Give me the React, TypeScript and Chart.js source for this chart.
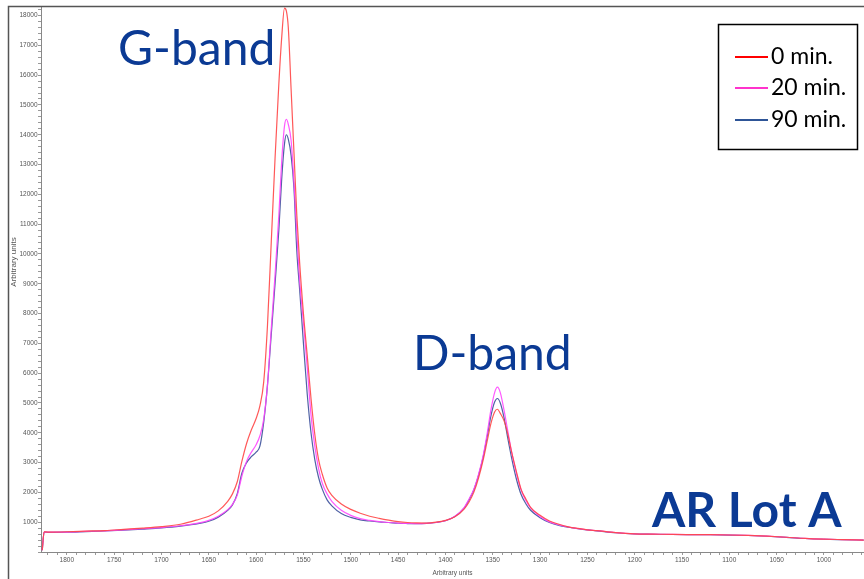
import React, { useEffect, useRef } from 'react';
import { Chart, registerables } from 'chart.js';

Chart.register(...registerables);

// Raman shift (cm-1)
const wavenumbers = [
  1826, 1824, 1820, 1800, 1780, 1760, 1740, 1720, 1700, 1680,
  1660, 1650, 1640, 1630, 1625, 1620, 1615, 1610, 1605, 1600,
  1596, 1592, 1588, 1584, 1580, 1576, 1573, 1570, 1568, 1566,
  1563, 1560, 1557, 1554, 1550, 1546, 1542, 1538, 1534, 1530,
  1525, 1520, 1510, 1500, 1490, 1480, 1470, 1460, 1450, 1440,
  1430, 1420, 1410, 1400, 1390, 1380, 1375, 1370, 1365, 1360,
  1356, 1352, 1348, 1345, 1342, 1338, 1334, 1330, 1325, 1320,
  1315, 1310, 1300, 1290, 1280, 1270, 1260, 1250, 1240, 1220,
  1200, 1180, 1160, 1140, 1120, 1100, 1080, 1060, 1040, 1020,
  1000, 980, 958,
];

const min0 = [
  60, 680, 670, 680, 700, 720, 760, 800, 850, 930,
  1100, 1200, 1380, 1700, 1950, 2350, 3050, 3650, 4100, 4480,
  4900, 5700, 7600, 10400, 13200, 15700, 17250, 18250, 18150, 17600,
  15500, 13400, 11300, 9700, 8000, 6600, 5150, 3950, 3100, 2600,
  2150, 1900, 1610, 1430, 1300, 1200, 1130, 1070, 1020, 990,
  975, 970, 1000, 1060, 1180, 1450, 1680, 2000, 2480, 3100,
  3700, 4300, 4700, 4790, 4650, 4400, 3950, 3350, 2700, 2100,
  1780, 1500, 1230, 1040, 930, 845, 790, 745, 715, 650,
  610, 600, 590, 585, 580, 570, 555, 530, 495, 455,
  430, 415, 400,
];

const min20 = [
  60, 670, 665, 670, 690, 710, 740, 780, 820, 880,
  980, 1060, 1200, 1420, 1600, 1900, 2550, 3050, 3350, 3600,
  3900, 4450, 5600, 7500, 9300, 11300, 13100, 14300, 14520, 14350,
  13800, 12400, 10700, 9100, 7700, 6200, 4600, 3550, 2800, 2300,
  1950, 1700, 1400, 1230, 1120, 1060, 1020, 990, 970, 960,
  950, 960, 990, 1050, 1200, 1500, 1780, 2100, 2600, 3250,
  3950, 4750, 5350, 5530, 5350, 4750, 4050, 3350, 2650, 2080,
  1730, 1480, 1190, 1010, 910, 840, 785, 745, 715, 650,
  610, 600, 590, 585, 580, 570, 555, 530, 495, 455,
  430, 415, 400,
];

const min90 = [
  60, 665, 660, 665, 685, 705, 735, 770, 810, 870,
  960, 1030, 1170, 1400, 1580, 1950, 2650, 3000, 3200, 3350,
  3550, 4350, 5600, 7300, 9000, 10800, 12500, 13700, 14000, 13850,
  13300, 12200, 10100, 8800, 7000, 5300, 4000, 3100, 2500, 2100,
  1750, 1550, 1290, 1160, 1080, 1040, 1010, 990, 965, 955,
  950, 960, 990, 1050, 1190, 1480, 1750, 2080, 2570, 3200,
  3850, 4550, 5030, 5150, 5000, 4500, 3800, 3150, 2450, 1930,
  1620, 1400, 1150, 990, 890, 830, 780, 740, 710, 645,
  605, 595, 588, 583, 578, 568, 553, 528, 493, 453,
  428, 413, 398,
];

const seriesLabels = ['0 min.', '20 min.', '90 min.'];
const seriesValues = [min0, min20, min90];
const lineColors = ['rgba(255,70,70,0.9)', 'rgba(255,70,255,0.9)', 'rgba(60,80,155,0.9)'];
const legendColors = ['#FF0000', '#FF33CC', '#2E5597'];

const xTickValues = [1800, 1750, 1700, 1650, 1600, 1550, 1500, 1450, 1400, 1350, 1300, 1250, 1200, 1150, 1100, 1050, 1000];
const yTickValues = [1000, 2000, 3000, 4000, 5000, 6000, 7000, 8000, 9000, 10000, 11000, 12000, 13000, 14000, 15000, 16000, 17000, 18000];
const bandLabels = ['G-band', 'D-band'];
const sampleLabel = 'AR Lot A';
const axisTitle = 'Arbitrary units';

const X_MIN = 957.7;
const X_MAX = 1827.3;
const Y_MAX = 18320;

const tickFont = { family: '"Liberation Sans", Arial, sans-serif', size: 6.5 };

const overlayPlugin = {
  id: 'overlay',
  afterDraw(chart: any) {
    const ctx = chart.ctx as CanvasRenderingContext2D;
    ctx.save();
    // frame lines
    ctx.strokeStyle = '#555';
    ctx.lineWidth = 1.5;
    ctx.beginPath();
    ctx.moveTo(8.5, 579);
    ctx.lineTo(8.5, 6.5);
    ctx.lineTo(864, 6.5);
    ctx.stroke();

    // y axis title
    ctx.save();
    ctx.translate(14, 262);
    ctx.rotate(-Math.PI / 2);
    ctx.fillStyle = '#555';
    ctx.font = '8px "Liberation Sans", Arial, sans-serif';
    ctx.textAlign = 'center';
    ctx.textBaseline = 'middle';
    ctx.fillText(axisTitle, 0, 0);
    ctx.restore();

    // band annotations
    ctx.fillStyle = '#0B3A94';
    ctx.textBaseline = 'alphabetic';
    ctx.textAlign = 'left';
    ctx.font = '48px Lato, "Open Sans", sans-serif';
    ctx.fillText(bandLabels[0], 118, 65);
    ctx.fillText(bandLabels[1], 413, 370);
    ctx.font = 'bold 48px Lato, "Open Sans", sans-serif';
    ctx.fillText(sampleLabel, 652, 527);

    // legend box
    ctx.strokeStyle = '#000';
    ctx.lineWidth = 1.5;
    ctx.strokeRect(718.5, 24.5, 139, 125);
    const rows = [57, 88, 120];
    ctx.font = '23px Lato, "Open Sans", sans-serif';
    ctx.textBaseline = 'middle';
    seriesLabels.forEach((lab, i) => {
      ctx.strokeStyle = legendColors[i];
      ctx.lineWidth = 2;
      ctx.beginPath();
      ctx.moveTo(735, rows[i]);
      ctx.lineTo(768, rows[i]);
      ctx.stroke();
      ctx.fillStyle = '#000';
      ctx.fillText(lab, 771, rows[i]);
    });
    ctx.restore();
  },
};

export default function App() {
  const ref = useRef<HTMLCanvasElement>(null);
  useEffect(() => {
    document.body.style.margin = '0';
    const canvas = ref.current;
    if (!canvas) return;
    const datasets = seriesValues.map((vals, i) => ({
      label: seriesLabels[i],
      data: wavenumbers.map((w, j) => ({ x: w, y: vals[j] })),
      borderColor: lineColors[i],
      backgroundColor: lineColors[i],
      borderWidth: 1.2,
      pointRadius: 0,
      fill: false,
      cubicInterpolationMode: 'monotone' as const,
    }));
    const chart = new Chart(canvas, {
      type: 'line',
      data: { datasets },
      options: {
        animation: false,
        responsive: false,
        maintainAspectRatio: false,
        layout: { padding: { top: 6, left: 0, right: 0, bottom: 0 } },
        plugins: { legend: { display: false }, tooltip: { enabled: false } },
        scales: {
          x: {
            type: 'linear',
            reverse: true,
            min: X_MIN,
            max: X_MAX,
            afterFit: (s: any) => { s.height = 27; },
            afterBuildTicks: (s: any) => {
              const t: any[] = [];
              for (let v = 1820; v >= 960; v -= 10) t.push({ value: v });
              s.ticks = t;
            },
            ticks: {
              autoSkip: false,
              maxRotation: 0,
              padding: 1,
              font: tickFont,
              color: '#555',
              callback: (v: any) => (xTickValues.includes(Number(v)) ? String(v) : ''),
            },
            grid: { drawOnChartArea: false, tickLength: 3, color: '#999' },
            border: { color: '#888' },
            title: { display: true, text: axisTitle, font: tickFont, color: '#555', padding: { top: 0, bottom: 2 } },
          },
          y: {
            type: 'linear',
            min: 0,
            max: Y_MAX,
            afterFit: (s: any) => { s.width = 41; },
            afterBuildTicks: (s: any) => {
              const t: any[] = [];
              for (let v = 0; v <= 18200; v += 200) t.push({ value: v });
              s.ticks = t;
            },
            ticks: {
              autoSkip: false,
              padding: 0.5,
              font: tickFont,
              color: '#555',
              callback: (v: any) => (yTickValues.includes(Number(v)) ? String(v) : ''),
            },
            grid: { drawOnChartArea: false, tickLength: 3, color: '#999' },
            border: { color: '#888' },
          },
        },
      },
      plugins: [overlayPlugin],
    });
    return () => chart.destroy();
  }, []);
  return <canvas ref={ref} width={864} height={579} style={{ display: 'block' }} />;
}
